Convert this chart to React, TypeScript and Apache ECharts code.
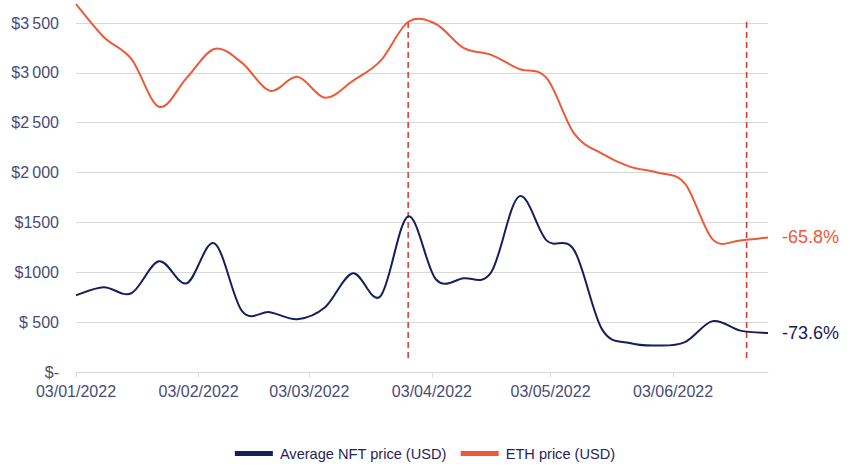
import React, { useEffect, useRef } from "react";
import * as echarts from "echarts";

const weekDates = [
  "2022-01-03", "2022-01-10", "2022-01-17", "2022-01-24", "2022-01-31",
  "2022-02-07", "2022-02-14", "2022-02-21", "2022-02-28", "2022-03-07",
  "2022-03-14", "2022-03-21", "2022-03-28", "2022-04-04", "2022-04-11",
  "2022-04-18", "2022-04-25", "2022-05-02", "2022-05-09", "2022-05-16",
  "2022-05-23", "2022-05-30", "2022-06-06", "2022-06-13", "2022-06-20",
  "2022-06-27",
];

const nftPrice = [
  770, 850, 790, 1110, 890, 1290, 610, 600, 530, 650,
  990, 760, 1560, 930, 940, 1000, 1760, 1320, 1220, 430,
  290, 265, 300, 510, 415, 390,
];

const ethPrice = [
  3690, 3360, 3140, 2660, 2950, 3240, 3100, 2820, 2960, 2750,
  2920, 3120, 3510, 3490, 3250, 3180, 3040, 2950, 2390, 2190,
  2060, 2000, 1890, 1330, 1320, 1350,
];

const monthTicks = [
  "2022-01-03", "2022-02-03", "2022-03-03", "2022-04-03", "2022-05-03", "2022-06-03",
];

const yTickLabels: Record<number, string> = {
  0: "$-",
  500: "$ 500",
  1000: "$1000",
  1500: "$1500",
  2000: "$2\u2009000",
  2500: "$2\u2009500",
  3000: "$3\u2009000",
  3500: "$3\u2009500",
};

const markerDates = ["2022-03-28T00:00:00Z", "2022-06-21T14:00:00Z"];
const markerRange = [140, 3520];

const seriesNames = ["Average NFT price (USD)", "ETH price (USD)"];
const endLabels = ["-73.6%", "-65.8%"];

const ts = (d: string) => new Date(d.length === 10 ? d + "T00:00:00Z" : d).getTime();

const NAVY = "#15205A";
const ORANGE = "#EC5A37";
const DASH = "#E0332B";
const LABEL = "#474B7A";
const FONT = "'Liberation Sans', Arial, sans-serif";

function curveSeries(name: string, values: number[], color: string, label: string) {
  const data = weekDates.map((d, i) => [ts(d), values[i]]);
  return {
    name,
    type: "custom",
    data,
    itemStyle: { color },
    clip: false,
    renderItem: (params: any, api: any) => {
      if (params.dataIndex !== 0) return null;
      const pts = data.map((p) => api.coord(p));
      const n = pts.length;
      let d = `M${pts[0][0]},${pts[0][1]}`;
      for (let i = 0; i < n - 1; i++) {
        const p0 = pts[Math.max(i - 1, 0)];
        const p1 = pts[i];
        const p2 = pts[i + 1];
        const p3 = pts[Math.min(i + 2, n - 1)];
        const c1x = p1[0] + (p2[0] - p0[0]) / 6;
        const c1y = p1[1] + (p2[1] - p0[1]) / 6;
        const c2x = p2[0] - (p3[0] - p1[0]) / 6;
        const c2y = p2[1] - (p3[1] - p1[1]) / 6;
        d += ` C${c1x},${c1y} ${c2x},${c2y} ${p2[0]},${p2[1]}`;
      }
      const last = pts[n - 1];
      return {
        type: "group",
        children: [
          {
            type: "path",
            shape: { pathData: d },
            style: { fill: "none", stroke: color, lineWidth: 2 },
          },
          {
            type: "text",
            x: last[0] + 14,
            y: last[1],
            style: {
              text: label,
              fill: color,
              fontSize: 18,
              fontFamily: FONT,
              verticalAlign: "middle",
              align: "left",
            },
          },
        ],
      };
    },
  };
}

export default function App() {
  const ref = useRef<HTMLDivElement>(null);

  useEffect(() => {
    if (!ref.current) return;
    const chart = echarts.init(ref.current, undefined, { renderer: "svg" });

    const dashSeries = markerDates.map((d, i) => ({
      name: `marker${i}`,
      type: "line",
      data: [
        [ts(d), markerRange[0]],
        [ts(d), markerRange[1]],
      ],
      showSymbol: false,
      symbol: "none",
      silent: true,
      clip: false,
      lineStyle: { color: DASH, type: [6, 4], width: 1.5 },
      z: 1,
    }));

    chart.setOption({
      animation: false,
      textStyle: { fontFamily: FONT },
      grid: { left: 76, right: 82, top: 23, bottom: 102, containLabel: false },
      legend: {
        data: seriesNames,
        top: 441,
        left: "center",
        icon: "rect",
        itemWidth: 38,
        itemHeight: 5,
        itemGap: 14,
        textStyle: { fontSize: 14.6, color: "#1F2457", fontFamily: FONT, padding: [0, 0, 0, 2] },
      },
      xAxis: {
        type: "value",
        min: ts(weekDates[0]),
        max: ts(weekDates[weekDates.length - 1]),
        axisLine: { show: true, lineStyle: { color: "#D9D9D9", width: 1 } },
        axisTick: {
          show: true,
          customValues: monthTicks.map(ts),
          length: 5,
          inside: false,
          lineStyle: { color: "#D9D9D9" },
        },
        axisLabel: {
          customValues: monthTicks.map(ts),
          color: LABEL,
          fontSize: 16,
          margin: 11,
          fontFamily: FONT,
          formatter: (v: number) => {
            const d = new Date(v);
            const dd = String(d.getUTCDate()).padStart(2, "0");
            const mm = String(d.getUTCMonth() + 1).padStart(2, "0");
            return `${dd}/${mm}/${d.getUTCFullYear()}`;
          },
        },
        splitLine: { show: false },
      },
      yAxis: {
        type: "value",
        min: 0,
        max: 3500,
        interval: 500,
        axisLine: { show: false },
        axisTick: { show: false },
        axisLabel: {
          color: LABEL,
          fontSize: 16,
          margin: 17,
          fontFamily: FONT,
          formatter: (v: number) => yTickLabels[v] ?? String(v),
        },
        splitLine: { show: true, lineStyle: { color: "#D9D9D9", width: 1 } },
      },
      series: [
        ...dashSeries,
        curveSeries(seriesNames[1], ethPrice, ORANGE, endLabels[1]),
        curveSeries(seriesNames[0], nftPrice, NAVY, endLabels[0]),
      ],
    });

    return () => chart.dispose();
  }, []);

  return <div ref={ref} style={{ width: 850, height: 474, position: "absolute", left: 0, top: 0 }} />;
}
